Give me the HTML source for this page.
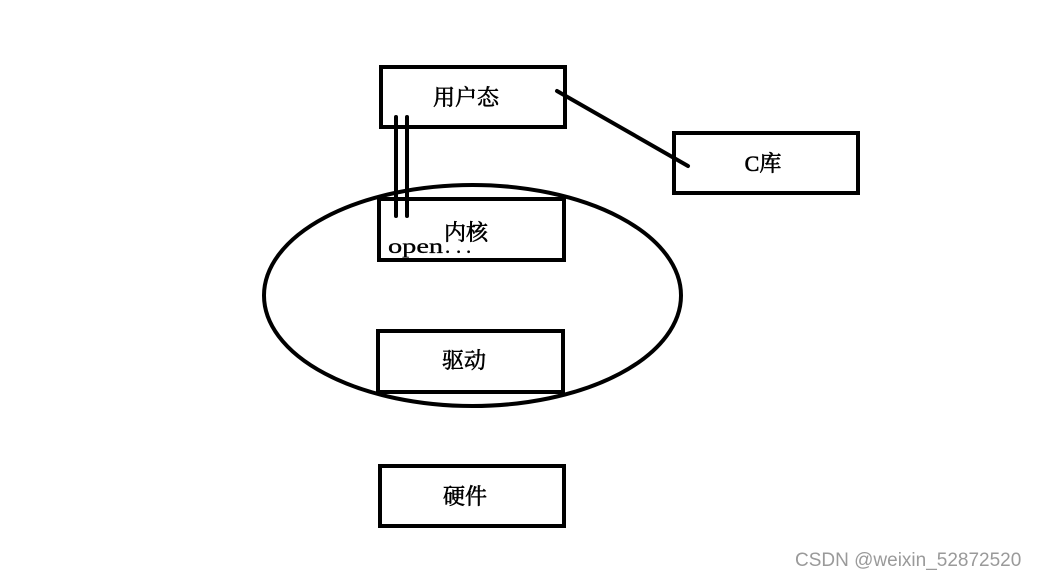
<!DOCTYPE html>
<html>
<head>
<meta charset="utf-8">
<style>
html,body{margin:0;padding:0;background:#fff;}
body{width:1041px;height:578px;overflow:hidden;}
svg{display:block;}
.cn{font-family:"Liberation Serif","Noto Serif CJK SC",serif;font-size:22px;fill:#000;stroke:#000;stroke-width:0.6;}
</style>
</head>
<body>
<svg width="1041" height="578" viewBox="0 0 1041 578" xmlns="http://www.w3.org/2000/svg">
  <rect width="1041" height="578" fill="#fff"/>
  <g fill="none" stroke="#000" stroke-width="4">
    <rect x="381" y="67" width="184" height="60"/>
    <rect x="674" y="133" width="184" height="60"/>
    <rect x="379" y="199" width="185" height="61"/>
    <rect x="378" y="331" width="185" height="61"/>
    <rect x="380" y="466" width="184" height="60"/>
    <ellipse cx="472.5" cy="295.5" rx="208.5" ry="110.5"/>
    <line x1="557" y1="91" x2="688" y2="166" stroke-linecap="round"/>
    <line x1="396" y1="117" x2="396" y2="216" stroke-linecap="round"/>
    <line x1="407" y1="117" x2="407" y2="216" stroke-linecap="round"/>
  </g>
  <text class="cn" x="466" y="105" text-anchor="middle">用户态</text>
  <text class="cn" x="763" y="171" text-anchor="middle">C库</text>
  <text class="cn" x="466" y="240" text-anchor="middle">内核</text>
  <text transform="translate(388,253) scale(1.35,1)" x="0" y="0" font-family="Liberation Serif, serif" font-size="21" fill="#000" stroke="#000" stroke-width="0.3">open</text>
  <text x="445 456 466" y="253" font-family="Liberation Serif, serif" font-size="21" fill="#000" stroke="#000" stroke-width="0.3">...</text>
  <text class="cn" x="464" y="368" text-anchor="middle">驱动</text>
  <text class="cn" x="465" y="504" text-anchor="middle">硬件</text>
  <text x="795" y="566" font-family="Liberation Sans, sans-serif" font-size="19" fill="#9a9a9a">CSDN @weixin_52872520</text>
</svg>
</body>
</html>
